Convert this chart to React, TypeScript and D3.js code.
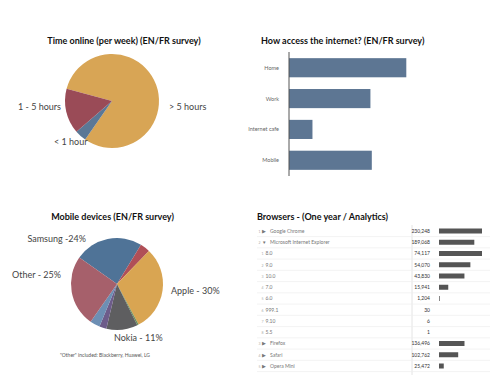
import React from 'react';
import * as d3 from 'd3';

const timeLabels = ['> 5 hours', '< 1 hour', '1 - 5 hours'];
const timeValues = [80.5, 4, 15.5];
const timeColors = ['#d8a555', '#5b7896', '#9a4b57'];

const accessCategories = ['Home', 'Work', 'Internet cafe', 'Mobile'];
const accessValues = [85, 59, 17, 60];

const deviceNames = ['Samsung', 'HTC', 'Apple', 'Sony', 'Nokia', 'Motorola', 'Windows', 'Other'];
const deviceLabels = ['Samsung -24%', '', 'Apple - 30%', '', 'Nokia - 11%', '', '', 'Other - 25%'];
const deviceValues = [24, 3.5, 30, 0.5, 11, 2.5, 3.5, 25];
const deviceColors = ['#4f7397', '#b04f57', '#d9a552', '#6b8f5a', '#5e5e60', '#6d5c8a', '#6d8fb4', '#a6606b'];

const browserNames = ['Google Chrome', 'Microsoft Internet Explorer', '8.0', '9.0', '10.0', '7.0', '6.0', '999.1', '9.10', '5.5', 'Firefox', 'Safari', 'Opera Mini'];
const browserSessions = [230248, 189068, 74117, 54070, 43830, 15941, 1204, 30, 6, 1, 136496, 102762, 25472];
const browserLevel = [0, 0, 1, 1, 1, 1, 1, 1, 1, 1, 0, 0, 0];
const browserIndex = [1, 2, 1, 2, 3, 4, 5, 6, 7, 8, 3, 4, 5];

const FONT = 'Lato, "Open Sans", "Liberation Sans", sans-serif';
const deg = Math.PI / 180;

function TimePie() {
  const cx = 112, cy = 101, r = 47;
  const pie = d3.pie<number>().sort(null).startAngle(-75 * deg).endAngle(285 * deg);
  const arc = d3.arc<d3.PieArcDatum<number>>().innerRadius(0).outerRadius(r);
  const arcs = pie(timeValues);
  const labelPos = [
    { x: 169, y: 110, a: 'start' },
    { x: 54, y: 145, a: 'start' },
    { x: 61, y: 110, a: 'end' },
  ];
  return (
    <g>
      <text x={124} y={44} textAnchor="middle" fontFamily={FONT} fontWeight="bold" fontSize={9} fill="#111">
        Time online (per week) (EN/FR survey)
      </text>
      <g transform={`translate(${cx},${cy})`}>
        {arcs.map((a, i) => (
          <path key={i} d={arc(a) || ''} fill={timeColors[i]} />
        ))}
      </g>
      {timeLabels.map((l, i) => (
        <text key={l} x={labelPos[i].x} y={labelPos[i].y} textAnchor={labelPos[i].a as any} fontFamily={FONT} fontSize={9} fill="#444">
          {l}
        </text>
      ))}
    </g>
  );
}

function AccessBars() {
  const x0 = 289, plotW = 138;
  const x = d3.scaleLinear().domain([0, 100]).range([x0, x0 + plotW]);
  const y = d3.scaleBand().domain(accessCategories).range([52, 176]).paddingInner(0.38).paddingOuter(0.2);
  return (
    <g>
      <text x={261} y={44} fontFamily={FONT} fontWeight="bold" fontSize={9} fill="#111">
        How access the internet? (EN/FR survey)
      </text>
      {accessCategories.map((c, i) => (
        <g key={c}>
          <rect x={x(0)} y={y(c)} width={x(accessValues[i]) - x(0)} height={y.bandwidth()} fill="#5d7693" />
          <text x={279} y={(y(c) as number) + y.bandwidth() / 2 + 2} textAnchor="end" fontFamily={FONT} fontSize={5.5} fill="#666">
            {c}
          </text>
        </g>
      ))}
      <line x1={x0} x2={x0} y1={52} y2={176} stroke="#555" strokeWidth={1} />
    </g>
  );
}

function DevicePie() {
  const cx = 117, cy = 284, r = 46;
  const pie = d3.pie<number>().sort(null).startAngle(-55 * deg).endAngle(305 * deg);
  const arc = d3.arc<d3.PieArcDatum<number>>().innerRadius(0).outerRadius(r);
  const arcs = pie(deviceValues);
  const labelPos: Record<number, { x: number; y: number; a: string }> = {
    0: { x: 86, y: 242, a: 'end' },
    2: { x: 171, y: 294, a: 'start' },
    4: { x: 114, y: 341, a: 'start' },
    7: { x: 61, y: 278, a: 'end' },
  };
  return (
    <g>
      <text x={112.5} y={220} textAnchor="middle" fontFamily={FONT} fontWeight="bold" fontSize={9} fill="#111">
        Mobile devices (EN/FR survey)
      </text>
      <g transform={`translate(${cx},${cy})`}>
        {arcs.map((a, i) => (
          <path key={deviceNames[i]} d={arc(a) || ''} fill={deviceColors[i]} />
        ))}
      </g>
      {deviceLabels.map((l, i) =>
        l ? (
          <text key={i} x={labelPos[i].x} y={labelPos[i].y} textAnchor={labelPos[i].a as any} fontFamily={FONT} fontSize={9} fill="#444">
            {l}
          </text>
        ) : null
      )}
      <text x={105} y={357} textAnchor="middle" fontFamily={FONT} fontSize={5} fill="#555">
        "Other" included: Blackberry, Huawei, LG
      </text>
    </g>
  );
}

function BrowserTable() {
  const rowY = d3.scaleLinear().domain([0, 1]).range([231, 242.25]);
  const top = d3.scaleLinear().domain([0, 230248]).range([0, 43]);
  const sub = d3.scaleLinear().domain([0, 74117]).range([0, 43]);
  const fmt = d3.format(',');
  const barX = 439;
  return (
    <g>
      <text x={257} y={220} fontFamily={FONT} fontWeight="bold" fontSize={9} fill="#111">
        Browsers - (One year / Analytics)
      </text>
      <line x1={412} x2={412} y1={225} y2={375} stroke="#e4e4e4" strokeWidth={1} />
      {browserNames.map((n, i) => {
        const yc = rowY(i);
        const lvl = browserLevel[i];
        const w = lvl === 0 ? top(browserSessions[i]) : sub(browserSessions[i]);
        return (
          <g key={i}>
            <line x1={257} x2={490} y1={yc + 5.6} y2={yc + 5.6} stroke="#eeeeee" strokeWidth={0.7} />
            {lvl === 0 ? (
              <>
                <text x={258.5} y={yc + 1.8} fontFamily={FONT} fontSize={3.5} fill="#aaa">{browserIndex[i]}</text>
                <text x={262} y={yc + 1.8} fontFamily={FONT} fontSize={4.5} fill="#777">{i === 1 ? '▼' : '▶'}</text>
                <text x={270} y={yc + 1.8} fontFamily={FONT} fontSize={5} fill="#777">{n}</text>
              </>
            ) : (
              <>
                <text x={261.5} y={yc + 1.8} fontFamily={FONT} fontSize={3.5} fill="#aaa">{browserIndex[i]}</text>
                <text x={265.5} y={yc + 1.8} fontFamily={FONT} fontSize={5} fill="#777">{n}</text>
              </>
            )}
            <text x={430} y={yc + 1.8} textAnchor="end" fontFamily={FONT} fontSize={5} fill="#333">
              {fmt(browserSessions[i])}
            </text>
            {browserSessions[i] > 100 && (
              <rect x={barX} y={yc - 2.5} width={Math.max(w, 0.6)} height={5} fill="#555" />
            )}
          </g>
        );
      })}
    </g>
  );
}

export default function App() {
  return (
    <svg width={500} height={375} style={{ position: 'absolute', left: 0, top: 0, background: '#fff' }}>
      <rect width={500} height={375} fill="#fff" />
      <TimePie />
      <AccessBars />
      <DevicePie />
      <BrowserTable />
    </svg>
  );
}
